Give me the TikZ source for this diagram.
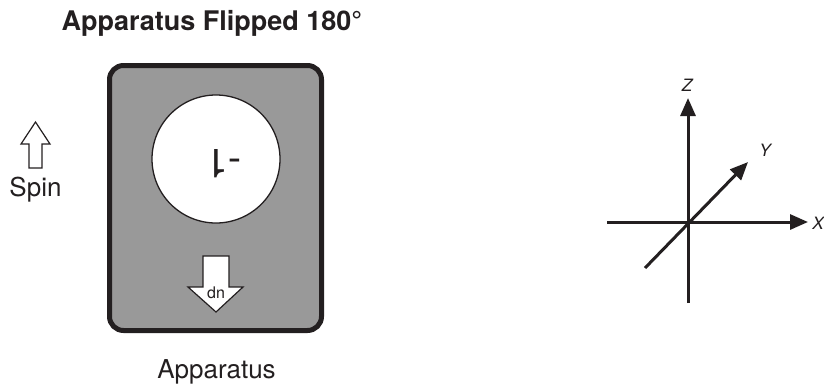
\documentclass[tikz,border=0pt]{standalone}
\usepackage{fontspec}
\setmainfont{TeX Gyre Heros}
\usetikzlibrary{arrows.meta}
\definecolor{ink}{HTML}{231F20}
\definecolor{panel}{HTML}{999999}
\begin{document}
\begin{tikzpicture}[x=1pt,y=-1pt,
    axis/.style={line width=3pt,draw=ink,-{Triangle[length=18pt,width=15pt]}},
    axislabel/.style={text=ink,font=\fontsize{17}{20}\selectfont\itshape}]

        \useasboundingbox (0,0) rectangle (824,384);

        \node[anchor=base,text=ink,font=\fontsize{27}{30}\selectfont\bfseries] (title) at (212,30) {Apparatus Flipped 180°};

        \node[draw=ink,line width=5pt,fill=panel,rounded corners=14pt,minimum width=212pt,minimum height=265pt] (box) at (215.5,198) {};
        \node[draw=ink,line width=1.3pt,fill=white,circle,minimum size=128pt,inner sep=0pt] (dial) at (216,159) {};
        \node[rotate=180,text=ink,inner sep=0pt,font=\fontsize{40}{44}\selectfont] (value) at (224,163.5) {-1};

        \draw[ink,line width=1.2pt,fill=white] (203,256) -- (229,256) -- (229,287) -- (243,287) -- (216,312) -- (188,287) -- (203,287) -- cycle;
        \node[text=ink,inner sep=0pt,font=\fontsize{16}{18}\selectfont] (dn) at (216,293) {dn};

        \node[anchor=base,text=ink,font=\fontsize{26}{30}\selectfont] (apparatus) at (216.5,378) {Apparatus};

        \draw[ink,line width=1.2pt] (35.5,122) -- (50,144) -- (42,144) -- (42,168) -- (29,168) -- (29,144) -- (21,144) -- cycle;
        \node[anchor=base,text=ink,font=\fontsize{26}{30}\selectfont] (spin) at (35.5,196) {Spin};

        \coordinate (o) at (688,222);
        \coordinate (zbot) at (688,303);
        \coordinate (ztop) at (688,98);
        \coordinate (xleft) at (607,222);
        \coordinate (xright) at (808,222);
        \coordinate (ybot) at (645,268);
        \coordinate (ytop) at (748,162);
        \draw[axis] (zbot) -- (ztop);
        \draw[axis] (xleft) -- (xright);
        \draw[axis] (ybot) -- (ytop);
        \node[axislabel] (zl) at (687,85) {Z};
        \node[axislabel] (yl) at (765,150) {Y};
        \node[axislabel] (xl) at (818,223.5) {X};
    \end{tikzpicture}
\end{document}
